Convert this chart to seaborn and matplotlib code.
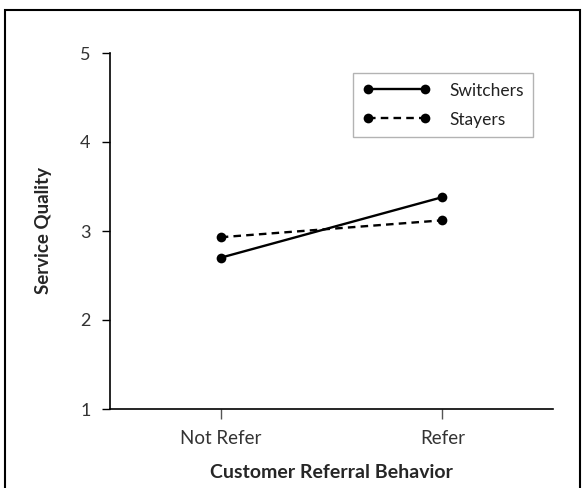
import numpy as np
import pandas as pd
import matplotlib
matplotlib.use("Agg")
import matplotlib.pyplot as plt
import seaborn as sns
from matplotlib.patches import Rectangle

# values
referral = ["Not Refer", "Refer"]
groups = ["Switchers", "Stayers"]
switchers = [2.70, 3.38]
stayers = [2.93, 3.12]
y_ticks = [1, 2, 3, 4, 5]

df = pd.DataFrame({
    "referral": referral * 2,
    "group": [groups[0]] * 2 + [groups[1]] * 2,
    "quality": switchers + stayers,
})

sns.set_style("white")
plt.rcParams["font.family"] = ["Lato", "DejaVu Sans"]

fig = plt.figure(figsize=(5.82, 4.88), dpi=100)
ax = fig.add_axes([110 / 582, 1 - 409 / 488, 443 / 582, 356 / 488])

sns.lineplot(
    data=df, x="referral", y="quality", hue="group", style="group",
    palette={"Switchers": "black", "Stayers": "black"},
    dashes={"Switchers": "", "Stayers": (3.2, 2.2)},
    markers={"Switchers": "o", "Stayers": "o"},
    markersize=7, linewidth=1.7, markeredgewidth=0, ax=ax,
)

ax.set_xlim(-0.5, 1.5)
ax.set_ylim(1, 5)
ax.set_yticks(y_ticks)
ax.set_xlabel("Customer Referral Behavior", fontsize=14, fontweight="bold", labelpad=12)
ax.set_ylabel("Service Quality", fontsize=13.5, fontweight="bold", labelpad=20)

for side in ["top", "right"]:
    ax.spines[side].set_visible(False)
for side in ["left", "bottom"]:
    ax.spines[side].set_color("black")
    ax.spines[side].set_linewidth(1.2)

ax.tick_params(axis="y", direction="out", length=6, width=1, colors="black",
               labelcolor="#333333", labelsize=13, pad=8, left=True)
ax.tick_params(axis="x", direction="out", length=7, width=1, colors="#555555",
               labelcolor="#333333", labelsize=13.5, pad=8, bottom=True)

handles, labels = ax.get_legend_handles_labels()
leg = ax.legend(handles, labels, numpoints=2, handlelength=3.9, handletextpad=1.1,
                loc="upper left", bbox_to_anchor=(243 / 443, (409 - 73) / 356),
                fontsize=12.5, frameon=True, fancybox=False, borderpad=0.55,
                labelspacing=0.75, borderaxespad=0)
leg.get_frame().set_edgecolor("#a0a0a0")
leg.get_frame().set_linewidth(1.0)
for t in leg.get_texts():
    t.set_color("#222222")

# outer frame around the figure (bottom edge runs off the image)
fig.patches.append(Rectangle((5 / 582, -0.1), 575 / 582, 1.1 - 10 / 488,
                             transform=fig.transFigure, fill=False,
                             edgecolor="black", linewidth=1.5))

fig.savefig("out.png", dpi=100)
